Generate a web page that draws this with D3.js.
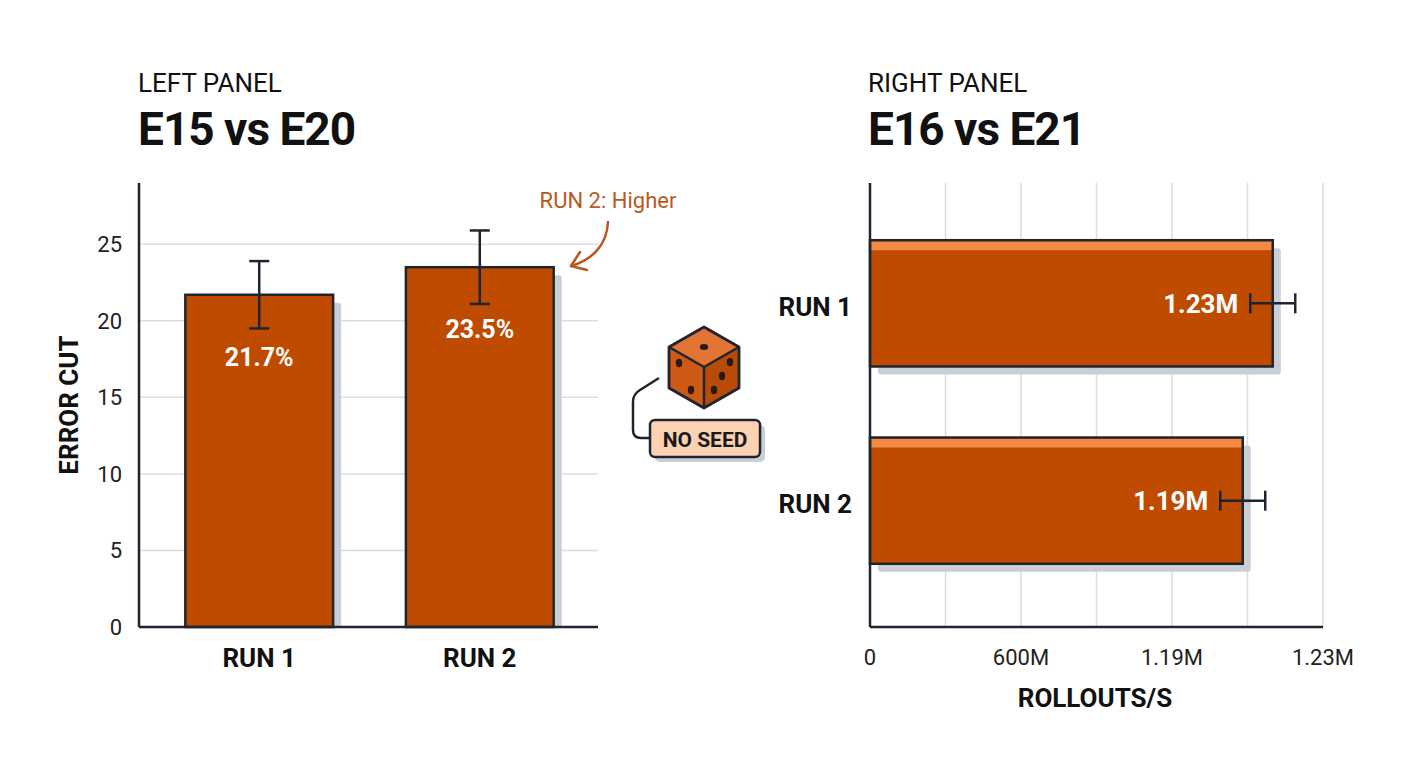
<!DOCTYPE html>
<html>
<head>
<meta charset="utf-8">
<script src="https://cdn.jsdelivr.net/npm/d3@7"></script>
<style>
  body { margin: 0; background: #fff; }
  svg text { font-family: Roboto, "Noto Sans", sans-serif; }
</style>
</head>
<body>
<svg id="chart" width="1408" height="768"></svg>
<script>
// left panel data (error cut, %)
const leftRuns = ['RUN 1', 'RUN 2'];
const leftValues = [21.7, 23.5];
const leftErrors = [2.2, 2.4];
const leftTicks = [0, 5, 10, 15, 20, 25];

// right panel data (rollouts/s, millions)
const rightRuns = ['RUN 1', 'RUN 2'];
const rightValues = [1.23, 1.19];
const rightErrors = [0.03, 0.03];
const rightTickLabels = ['0', '600M', '1.19M', '1.23M'];

const ORANGE = '#bf4b00';
const DARK = '#1e2530';
const SHADOW = '#c9ced7';
const GRID = '#dadde3';

const svg = d3.select('#chart');
svg.append('rect').attr('width', 1408).attr('height', 768).attr('fill', '#fff');

// titles
const title = (x, small, big) => {
    svg.append('text').attr('x', x).attr('y', 92)
        .style('font-size', '26px').attr('fill', '#111').text(small);
    svg.append('text').attr('x', x).attr('y', 145)
        .style('font-size', '46px').style('font-weight', 700)
        .style('letter-spacing', '-1px').attr('fill', '#111').text(big);
};
title(138, 'LEFT PANEL', 'E15 vs E20');
title(868, 'RIGHT PANEL', 'E16 vs E21');

// ---------- left panel ----------
const L = { left: 139, right: 600, top: 183, bottom: 627 };

const xL = d3.scaleBand().domain(leftRuns)
    .range([L.left, L.right])
    .paddingInner(0.33).paddingOuter(0.21);
const yL = d3.scaleLinear().domain([0, 29]).range([L.bottom, L.top]);

const gL = svg.append('g');

gL.selectAll('.grid')
    .data(leftTicks.slice(1))
    .enter().append('line')
    .attr('x1', L.left).attr('x2', 598)
    .attr('y1', d => yL(d)).attr('y2', d => yL(d))
    .attr('stroke', GRID).attr('stroke-width', 1.5);

// shadows
gL.selectAll('.shadow')
    .data(leftValues)
    .enter().append('rect')
    .attr('x', (d, i) => xL(leftRuns[i]) + 8)
    .attr('y', d => yL(d) + 8)
    .attr('width', xL.bandwidth())
    .attr('height', d => yL(0) - yL(d) - 8)
    .attr('rx', 3)
    .attr('fill', SHADOW);

gL.selectAll('.bar')
    .data(leftValues)
    .enter().append('rect')
    .attr('x', (d, i) => xL(leftRuns[i]))
    .attr('y', d => yL(d))
    .attr('width', xL.bandwidth())
    .attr('height', d => yL(0) - yL(d))
    .attr('fill', ORANGE)
    .attr('stroke', DARK).attr('stroke-width', 2.5);

// error bars
leftValues.forEach((v, i) => {
    const cx = xL(leftRuns[i]) + xL.bandwidth() / 2;
    const e = leftErrors[i];
    gL.append('line').attr('x1', cx).attr('x2', cx)
        .attr('y1', yL(v + e)).attr('y2', yL(v - e))
        .attr('stroke', DARK).attr('stroke-width', 2.5);
    [v + e, v - e].forEach(c => {
        gL.append('line').attr('x1', cx - 10).attr('x2', cx + 10)
            .attr('y1', yL(c)).attr('y2', yL(c))
            .attr('stroke', DARK).attr('stroke-width', 2.5);
    });
    gL.append('text')
        .attr('x', cx).attr('y', yL(v) + 71)
        .attr('text-anchor', 'middle')
        .style('font-size', '25px').style('font-weight', 700)
        .attr('fill', '#fff').text(v.toFixed(1) + '%');
});

// axes
gL.append('line').attr('x1', L.left).attr('x2', L.left)
    .attr('y1', L.top).attr('y2', L.bottom)
    .attr('stroke', DARK).attr('stroke-width', 2.5);
gL.append('line').attr('x1', L.left).attr('x2', 598)
    .attr('y1', L.bottom).attr('y2', L.bottom)
    .attr('stroke', DARK).attr('stroke-width', 2.5);

gL.selectAll('.ytick')
    .data(leftTicks)
    .enter().append('text')
    .attr('x', 122).attr('y', d => yL(d))
    .attr('dy', '0.36em')
    .attr('text-anchor', 'end')
    .style('font-size', '22px').attr('fill', '#222')
    .text(d => d);

gL.selectAll('.xtick')
    .data(leftRuns)
    .enter().append('text')
    .attr('x', d => xL(d) + xL.bandwidth() / 2)
    .attr('y', 667)
    .attr('text-anchor', 'middle')
    .style('font-size', '26px').style('font-weight', 700)
    .attr('fill', '#111').text(d => d);

gL.append('text')
    .attr('transform', 'translate(78,405) rotate(-90)')
    .attr('text-anchor', 'middle')
    .style('font-size', '26px').style('font-weight', 700)
    .attr('fill', '#111').text('ERROR CUT');

// annotation
const ANN = '#b9581e';
gL.append('text').attr('x', 608).attr('y', 208)
    .attr('text-anchor', 'middle')
    .style('font-size', '22px').attr('fill', ANN)
    .text('RUN 2: Higher');
gL.append('path')
    .attr('d', 'M608,222 C607,245 592,260 571,266')
    .attr('fill', 'none').attr('stroke', ANN)
    .attr('stroke-width', 2.5).attr('stroke-linecap', 'round');
gL.append('path')
    .attr('d', 'M580,252 L571,266 L587,270')
    .attr('fill', 'none').attr('stroke', ANN)
    .attr('stroke-width', 2.5).attr('stroke-linecap', 'round')
    .attr('stroke-linejoin', 'round');

// ---------- dice + NO SEED ----------
const gD = svg.append('g');
gD.append('path')
    .attr('d', 'M659,378 L640,390 Q633,394 633,402 L633,430 Q633,438 641,438 L650,438')
    .attr('fill', 'none').attr('stroke', DARK).attr('stroke-width', 2.5);
gD.append('rect').attr('x', 655).attr('y', 425).attr('width', 110).attr('height', 37)
    .attr('rx', 5).attr('fill', SHADOW);
gD.append('rect').attr('x', 650).attr('y', 420).attr('width', 110).attr('height', 37)
    .attr('rx', 5).attr('fill', '#fcd2b3')
    .attr('stroke', DARK).attr('stroke-width', 2.5);
gD.append('text').attr('x', 705).attr('y', 439).attr('dy', '0.36em')
    .attr('text-anchor', 'middle')
    .style('font-size', '21px').style('font-weight', 700)
    .attr('fill', '#1a1a1a').text('NO SEED');

const dTop = [704, 327], dLft = [669, 347], dRgt = [739, 347], dMid = [704, 367],
    dLb = [669, 388], dRb = [739, 388], dBot = [704, 408];
const poly = pts => 'M' + pts.map(p => p.join(',')).join('L') + 'Z';
gD.append('path').attr('d', poly([dTop, dRgt, dMid, dLft])).attr('fill', '#e27533');
gD.append('path').attr('d', poly([dLft, dMid, dBot, dLb])).attr('fill', '#cc5914');
gD.append('path').attr('d', poly([dMid, dRgt, dRb, dBot])).attr('fill', '#b94b08');
gD.append('path').attr('d', poly([dTop, dRgt, dRb, dBot, dLb, dLft]))
    .attr('fill', 'none').attr('stroke', DARK).attr('stroke-width', 2.8)
    .attr('stroke-linejoin', 'round');
gD.append('path').attr('d', `M${dLft}L${dMid}L${dRgt}M${dMid}L${dBot}`)
    .attr('fill', 'none').attr('stroke', DARK).attr('stroke-width', 2.5)
    .attr('stroke-linejoin', 'round');
const pips = [[704, 347, 4.2, 3], [679, 363, 3.2, 4.2], [691, 390, 3.2, 4.2],
    [730, 362, 3.2, 4.2], [722, 376, 3.2, 4.2], [714, 390, 3.2, 4.2]];
gD.selectAll('.pip').data(pips).enter().append('ellipse')
    .attr('cx', d => d[0]).attr('cy', d => d[1])
    .attr('rx', d => d[2]).attr('ry', d => d[3])
    .attr('fill', '#2a1a12');

// ---------- right panel ----------
const R = { left: 870, right: 1323, top: 183, bottom: 627 };
const w = R.right - R.left;

// value scale, axis starts at ~0.69M (bar lengths as drawn)
const xR = d3.scaleLinear().domain([0.693, 1.297]).range([R.left, R.right]);
const yR = d3.scaleBand().domain(rightRuns)
    .range([181, 623])
    .paddingInner(0.36).paddingOuter(0.3);
const tickPos = d3.scalePoint().domain(rightTickLabels).range([R.left, R.right]);

const gR = svg.append('g');
gR.selectAll('.grid')
    .data(d3.range(1, 7))
    .enter().append('line')
    .attr('x1', d => R.left + d * w / 6).attr('x2', d => R.left + d * w / 6)
    .attr('y1', R.top).attr('y2', R.bottom)
    .attr('stroke', GRID).attr('stroke-width', 1.5);

gR.selectAll('.shadow')
    .data(rightValues)
    .enter().append('rect')
    .attr('x', R.left + 8)
    .attr('y', (d, i) => yR(rightRuns[i]) + 8)
    .attr('width', d => xR(d) - R.left)
    .attr('height', yR.bandwidth())
    .attr('rx', 3)
    .attr('fill', SHADOW);

gR.selectAll('.bar')
    .data(rightValues)
    .enter().append('rect')
    .attr('x', R.left)
    .attr('y', (d, i) => yR(rightRuns[i]))
    .attr('width', d => xR(d) - R.left)
    .attr('height', yR.bandwidth())
    .attr('fill', ORANGE);

gR.selectAll('.hl')
    .data(rightValues)
    .enter().append('rect')
    .attr('x', R.left)
    .attr('y', (d, i) => yR(rightRuns[i]) + 1)
    .attr('width', d => xR(d) - R.left)
    .attr('height', 9)
    .attr('fill', '#f28a45');

gR.selectAll('.outline')
    .data(rightValues)
    .enter().append('rect')
    .attr('x', R.left)
    .attr('y', (d, i) => yR(rightRuns[i]))
    .attr('width', d => xR(d) - R.left)
    .attr('height', yR.bandwidth())
    .attr('fill', 'none')
    .attr('stroke', DARK).attr('stroke-width', 2.5);

rightValues.forEach((v, i) => {
    const cy = yR(rightRuns[i]) + yR.bandwidth() / 2;
    const e = rightErrors[i];
    const x0 = xR(v - e), x1 = xR(v + e);
    gR.append('line').attr('x1', x0).attr('x2', x1).attr('y1', cy).attr('y2', cy)
        .attr('stroke', DARK).attr('stroke-width', 2.5);
    [x0, x1].forEach(x => {
        gR.append('line').attr('x1', x).attr('x2', x).attr('y1', cy - 10).attr('y2', cy + 10)
            .attr('stroke', DARK).attr('stroke-width', 2.5);
    });
    gR.append('text')
        .attr('x', x0 - 12).attr('y', cy).attr('dy', '0.36em')
        .attr('text-anchor', 'end')
        .style('font-size', '26px').style('font-weight', 700)
        .attr('fill', '#fff').text(v.toFixed(2) + 'M');
    gR.append('text')
        .attr('x', 852).attr('y', cy + 3).attr('dy', '0.36em')
        .attr('text-anchor', 'end')
        .style('font-size', '26px').style('font-weight', 700)
        .attr('fill', '#111').text(rightRuns[i]);
});

gR.append('line').attr('x1', R.left).attr('x2', R.left)
    .attr('y1', R.top).attr('y2', R.bottom)
    .attr('stroke', DARK).attr('stroke-width', 2.5);
gR.append('line').attr('x1', R.left).attr('x2', R.right)
    .attr('y1', R.bottom).attr('y2', R.bottom)
    .attr('stroke', DARK).attr('stroke-width', 2.5);

gR.selectAll('.xtick')
    .data(rightTickLabels)
    .enter().append('text')
    .attr('x', d => tickPos(d))
    .attr('y', 657).attr('dy', '0.36em')
    .attr('text-anchor', 'middle')
    .style('font-size', '22px').attr('fill', '#222')
    .text(d => d);

gR.append('text').attr('x', 1095).attr('y', 707)
    .attr('text-anchor', 'middle')
    .style('font-size', '26px').style('font-weight', 700)
    .attr('fill', '#111').text('ROLLOUTS/S');
</script>
</body>
</html>
